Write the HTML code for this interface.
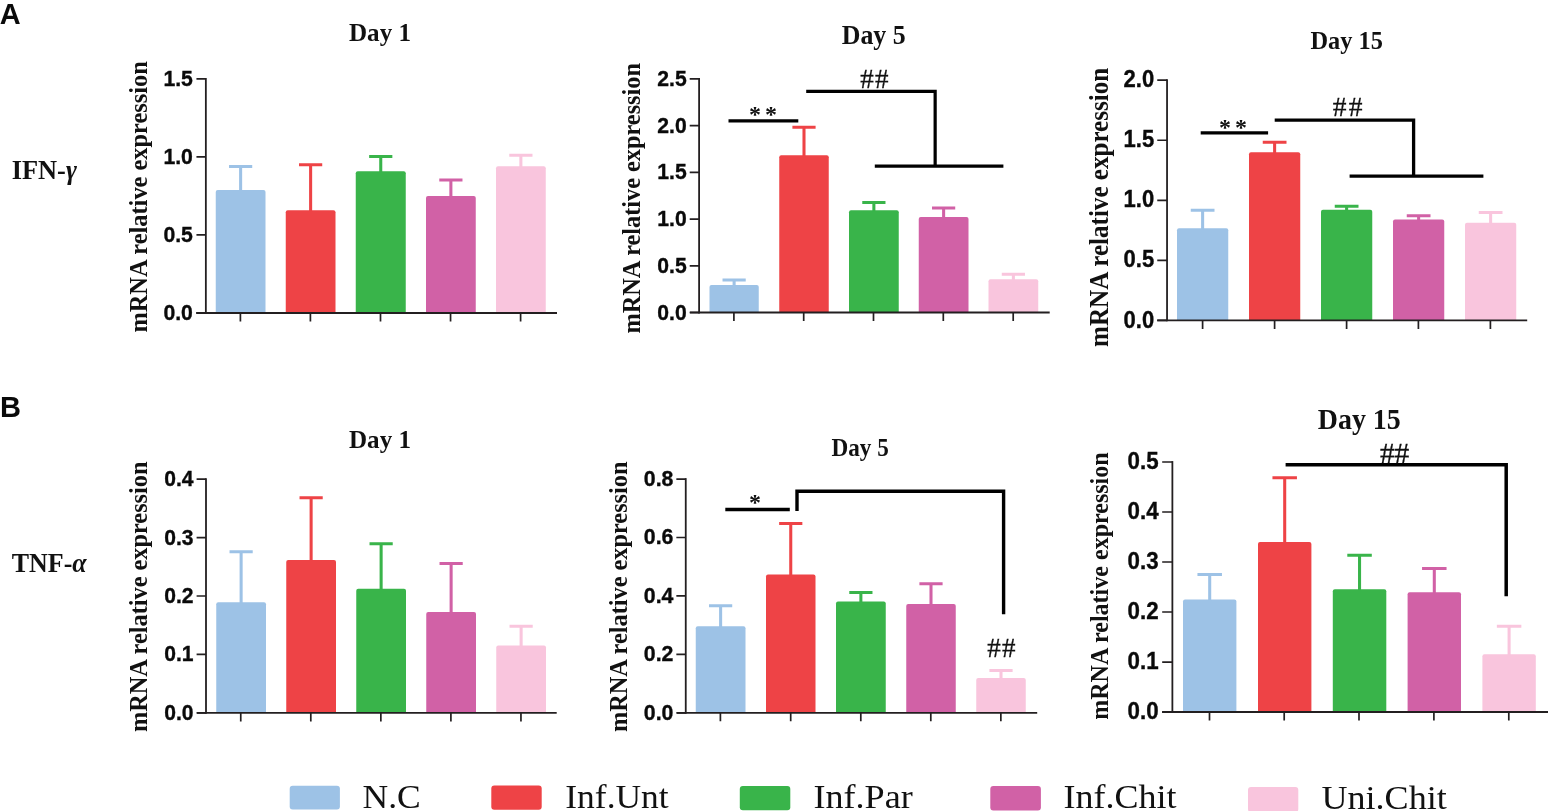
<!DOCTYPE html>
<html lang="en"><head><meta charset="utf-8"><title>mRNA relative expression – IFN-γ and TNF-α</title>
<style>
html,body{margin:0;padding:0;background:#fff;}
body{width:1548px;height:811px;overflow:hidden;font-family:"Liberation Serif", "Times New Roman", serif;}
svg{display:block;position:absolute;left:0;top:0;}
text{white-space:pre;}
</style></head><body>
<svg width="1548" height="811" viewBox="0 0 1548 811">
<rect width="1548" height="811" fill="#fff"/>
<path d="M215.75 312.95V192.00Q215.75 190.00 217.75 190.00H263.50Q265.50 190.00 265.50 192.00V312.95Z" fill="#9DC2E6"/>
<path d="M240.62 191.00V166.50M229.03 166.50H252.22" stroke="#9DC2E6" stroke-width="3.05" fill="none"/>
<path d="M285.75 312.95V212.25Q285.75 210.25 287.75 210.25H333.50Q335.50 210.25 335.50 212.25V312.95Z" fill="#EE4346"/>
<path d="M310.62 211.25V164.75M299.02 164.75H322.23" stroke="#EE4346" stroke-width="3.05" fill="none"/>
<path d="M355.75 312.95V173.25Q355.75 171.25 357.75 171.25H403.75Q405.75 171.25 405.75 173.25V312.95Z" fill="#39B44A"/>
<path d="M380.75 172.25V156.50M369.15 156.50H392.35" stroke="#39B44A" stroke-width="3.05" fill="none"/>
<path d="M426.00 312.95V198.00Q426.00 196.00 428.00 196.00H473.75Q475.75 196.00 475.75 198.00V312.95Z" fill="#D161A6"/>
<path d="M450.88 197.00V180.00M439.27 180.00H462.48" stroke="#D161A6" stroke-width="3.05" fill="none"/>
<path d="M496.00 312.95V168.25Q496.00 166.25 498.00 166.25H543.75Q545.75 166.25 545.75 168.25V312.95Z" fill="#F9C5DD"/>
<path d="M520.88 167.25V155.25M509.27 155.25H532.48" stroke="#F9C5DD" stroke-width="3.05" fill="none"/>
<path d="M205.85 78.00V313.85" stroke="#231F20" stroke-width="1.8" fill="none"/>
<path d="M196.20 312.95H557.00" stroke="#231F20" stroke-width="1.9" fill="none"/>
<path d="M196.45 78.90H205.85M196.45 156.92H205.85M196.45 234.93H205.85M196.45 312.95H205.85M240.40 312.95V321.45M310.40 312.95V321.45M380.50 312.95V321.45M450.55 312.95V321.45M520.60 312.95V321.45" stroke="#231F20" stroke-width="1.7" fill="none"/>
<text x="192.90" y="85.90" text-anchor="end" font-family='"Liberation Sans", Arial, sans-serif' font-weight="700" font-size="22" textLength="29.5" lengthAdjust="spacingAndGlyphs" fill="#0a0a0a" stroke="#0a0a0a" stroke-width="0.35">1.5</text>
<text x="192.90" y="163.92" text-anchor="end" font-family='"Liberation Sans", Arial, sans-serif' font-weight="700" font-size="22" textLength="29.5" lengthAdjust="spacingAndGlyphs" fill="#0a0a0a" stroke="#0a0a0a" stroke-width="0.35">1.0</text>
<text x="192.90" y="241.93" text-anchor="end" font-family='"Liberation Sans", Arial, sans-serif' font-weight="700" font-size="22" textLength="29.5" lengthAdjust="spacingAndGlyphs" fill="#0a0a0a" stroke="#0a0a0a" stroke-width="0.35">0.5</text>
<text x="192.90" y="319.95" text-anchor="end" font-family='"Liberation Sans", Arial, sans-serif' font-weight="700" font-size="22" textLength="29.5" lengthAdjust="spacingAndGlyphs" fill="#0a0a0a" stroke="#0a0a0a" stroke-width="0.35">0.0</text>
<text x="380.00" y="41.40" text-anchor="middle" font-family='"Liberation Serif", "Times New Roman", serif' font-weight="700" font-size="25" textLength="62" lengthAdjust="spacingAndGlyphs" fill="#111">Day 1</text>
<text transform="translate(147.10 332.60) rotate(-90)" font-family='"Liberation Serif", "Times New Roman", serif' font-weight="700" font-size="26" textLength="271.4" lengthAdjust="spacingAndGlyphs" fill="#111">mRNA relative expression</text>
<path d="M709.50 312.50V287.00Q709.50 285.00 711.50 285.00H756.75Q758.75 285.00 758.75 287.00V312.50Z" fill="#9DC2E6"/>
<path d="M734.12 286.00V280.00M722.52 280.00H745.73" stroke="#9DC2E6" stroke-width="3.05" fill="none"/>
<path d="M779.25 312.50V157.25Q779.25 155.25 781.25 155.25H826.75Q828.75 155.25 828.75 157.25V312.50Z" fill="#EE4346"/>
<path d="M804.00 156.25V127.25M792.40 127.25H815.60" stroke="#EE4346" stroke-width="3.05" fill="none"/>
<path d="M849.00 312.50V212.25Q849.00 210.25 851.00 210.25H896.75Q898.75 210.25 898.75 212.25V312.50Z" fill="#39B44A"/>
<path d="M873.88 211.25V202.50M862.27 202.50H885.48" stroke="#39B44A" stroke-width="3.05" fill="none"/>
<path d="M918.75 312.50V219.00Q918.75 217.00 920.75 217.00H966.50Q968.50 217.00 968.50 219.00V312.50Z" fill="#D161A6"/>
<path d="M943.62 218.00V208.00M932.02 208.00H955.23" stroke="#D161A6" stroke-width="3.05" fill="none"/>
<path d="M988.50 312.50V281.25Q988.50 279.25 990.50 279.25H1036.25Q1038.25 279.25 1038.25 281.25V312.50Z" fill="#F9C5DD"/>
<path d="M1013.38 280.25V274.25M1001.77 274.25H1024.97" stroke="#F9C5DD" stroke-width="3.05" fill="none"/>
<path d="M699.10 78.00V313.40" stroke="#231F20" stroke-width="1.8" fill="none"/>
<path d="M689.90 312.50H1049.70" stroke="#231F20" stroke-width="1.9" fill="none"/>
<path d="M689.70 78.90H699.10M689.70 125.62H699.10M689.70 172.34H699.10M689.70 219.06H699.10M689.70 265.78H699.10M689.70 312.50H699.10M733.90 312.50V321.00M803.70 312.50V321.00M873.50 312.50V321.00M943.30 312.50V321.00M1013.20 312.50V321.00" stroke="#231F20" stroke-width="1.7" fill="none"/>
<text x="686.70" y="85.90" text-anchor="end" font-family='"Liberation Sans", Arial, sans-serif' font-weight="700" font-size="22" textLength="29.4" lengthAdjust="spacingAndGlyphs" fill="#0a0a0a" stroke="#0a0a0a" stroke-width="0.35">2.5</text>
<text x="686.70" y="132.62" text-anchor="end" font-family='"Liberation Sans", Arial, sans-serif' font-weight="700" font-size="22" textLength="29.4" lengthAdjust="spacingAndGlyphs" fill="#0a0a0a" stroke="#0a0a0a" stroke-width="0.35">2.0</text>
<text x="686.70" y="179.34" text-anchor="end" font-family='"Liberation Sans", Arial, sans-serif' font-weight="700" font-size="22" textLength="29.4" lengthAdjust="spacingAndGlyphs" fill="#0a0a0a" stroke="#0a0a0a" stroke-width="0.35">1.5</text>
<text x="686.70" y="226.06" text-anchor="end" font-family='"Liberation Sans", Arial, sans-serif' font-weight="700" font-size="22" textLength="29.4" lengthAdjust="spacingAndGlyphs" fill="#0a0a0a" stroke="#0a0a0a" stroke-width="0.35">1.0</text>
<text x="686.70" y="272.78" text-anchor="end" font-family='"Liberation Sans", Arial, sans-serif' font-weight="700" font-size="22" textLength="29.4" lengthAdjust="spacingAndGlyphs" fill="#0a0a0a" stroke="#0a0a0a" stroke-width="0.35">0.5</text>
<text x="686.70" y="319.50" text-anchor="end" font-family='"Liberation Sans", Arial, sans-serif' font-weight="700" font-size="22" textLength="29.4" lengthAdjust="spacingAndGlyphs" fill="#0a0a0a" stroke="#0a0a0a" stroke-width="0.35">0.0</text>
<text x="873.70" y="44.40" text-anchor="middle" font-family='"Liberation Serif", "Times New Roman", serif' font-weight="700" font-size="26.5" textLength="64" lengthAdjust="spacingAndGlyphs" fill="#111">Day 5</text>
<text transform="translate(639.80 333.50) rotate(-90)" font-family='"Liberation Serif", "Times New Roman", serif' font-weight="700" font-size="26" textLength="270.5" lengthAdjust="spacingAndGlyphs" fill="#111">mRNA relative expression</text>
<path d="M1177.00 320.40V230.25Q1177.00 228.25 1179.00 228.25H1226.25Q1228.25 228.25 1228.25 230.25V320.40Z" fill="#9DC2E6"/>
<path d="M1202.62 229.25V210.25M1190.75 210.25H1214.50" stroke="#9DC2E6" stroke-width="3.05" fill="none"/>
<path d="M1249.00 320.40V154.25Q1249.00 152.25 1251.00 152.25H1298.25Q1300.25 152.25 1300.25 154.25V320.40Z" fill="#EE4346"/>
<path d="M1274.62 153.25V142.25M1262.75 142.25H1286.50" stroke="#EE4346" stroke-width="3.05" fill="none"/>
<path d="M1321.00 320.40V211.75Q1321.00 209.75 1323.00 209.75H1370.25Q1372.25 209.75 1372.25 211.75V320.40Z" fill="#39B44A"/>
<path d="M1346.62 210.75V206.25M1334.75 206.25H1358.50" stroke="#39B44A" stroke-width="3.05" fill="none"/>
<path d="M1393.00 320.40V221.50Q1393.00 219.50 1395.00 219.50H1442.25Q1444.25 219.50 1444.25 221.50V320.40Z" fill="#D161A6"/>
<path d="M1418.62 220.50V215.75M1406.75 215.75H1430.50" stroke="#D161A6" stroke-width="3.05" fill="none"/>
<path d="M1465.00 320.40V224.75Q1465.00 222.75 1467.00 222.75H1514.25Q1516.25 222.75 1516.25 224.75V320.40Z" fill="#F9C5DD"/>
<path d="M1490.62 223.75V212.50M1478.75 212.50H1502.50" stroke="#F9C5DD" stroke-width="3.05" fill="none"/>
<path d="M1167.05 79.30V321.30" stroke="#231F20" stroke-width="1.8" fill="none"/>
<path d="M1157.20 320.40H1527.20" stroke="#231F20" stroke-width="1.9" fill="none"/>
<path d="M1157.25 80.20H1167.05M1157.25 140.25H1167.05M1157.25 200.30H1167.05M1157.25 260.35H1167.05M1157.25 320.40H1167.05M1202.60 320.40V328.90M1274.60 320.40V328.90M1346.60 320.40V328.90M1418.40 320.40V328.90M1490.40 320.40V328.90" stroke="#231F20" stroke-width="1.7" fill="none"/>
<text x="1154.20" y="87.30" text-anchor="end" font-family='"Liberation Sans", Arial, sans-serif' font-weight="700" font-size="23" textLength="30.6" lengthAdjust="spacingAndGlyphs" fill="#0a0a0a" stroke="#0a0a0a" stroke-width="0.35">2.0</text>
<text x="1154.20" y="147.35" text-anchor="end" font-family='"Liberation Sans", Arial, sans-serif' font-weight="700" font-size="23" textLength="30.6" lengthAdjust="spacingAndGlyphs" fill="#0a0a0a" stroke="#0a0a0a" stroke-width="0.35">1.5</text>
<text x="1154.20" y="207.40" text-anchor="end" font-family='"Liberation Sans", Arial, sans-serif' font-weight="700" font-size="23" textLength="30.6" lengthAdjust="spacingAndGlyphs" fill="#0a0a0a" stroke="#0a0a0a" stroke-width="0.35">1.0</text>
<text x="1154.20" y="267.45" text-anchor="end" font-family='"Liberation Sans", Arial, sans-serif' font-weight="700" font-size="23" textLength="30.6" lengthAdjust="spacingAndGlyphs" fill="#0a0a0a" stroke="#0a0a0a" stroke-width="0.35">0.5</text>
<text x="1154.20" y="327.50" text-anchor="end" font-family='"Liberation Sans", Arial, sans-serif' font-weight="700" font-size="23" textLength="30.6" lengthAdjust="spacingAndGlyphs" fill="#0a0a0a" stroke="#0a0a0a" stroke-width="0.35">0.0</text>
<text x="1346.70" y="49.40" text-anchor="middle" font-family='"Liberation Serif", "Times New Roman", serif' font-weight="700" font-size="26" textLength="72.4" lengthAdjust="spacingAndGlyphs" fill="#111">Day 15</text>
<text transform="translate(1108.40 346.90) rotate(-90)" font-family='"Liberation Serif", "Times New Roman", serif' font-weight="700" font-size="26.8" textLength="279.1" lengthAdjust="spacingAndGlyphs" fill="#111">mRNA relative expression</text>
<path d="M216.25 712.90V604.25Q216.25 602.25 218.25 602.25H264.00Q266.00 602.25 266.00 604.25V712.90Z" fill="#9DC2E6"/>
<path d="M241.12 603.25V551.75M229.53 551.75H252.72" stroke="#9DC2E6" stroke-width="3.05" fill="none"/>
<path d="M286.25 712.90V562.00Q286.25 560.00 288.25 560.00H334.00Q336.00 560.00 336.00 562.00V712.90Z" fill="#EE4346"/>
<path d="M311.12 561.00V497.75M299.52 497.75H322.73" stroke="#EE4346" stroke-width="3.05" fill="none"/>
<path d="M356.25 712.90V590.75Q356.25 588.75 358.25 588.75H404.00Q406.00 588.75 406.00 590.75V712.90Z" fill="#39B44A"/>
<path d="M381.12 589.75V543.75M369.52 543.75H392.73" stroke="#39B44A" stroke-width="3.05" fill="none"/>
<path d="M426.25 712.90V614.00Q426.25 612.00 428.25 612.00H474.00Q476.00 612.00 476.00 614.00V712.90Z" fill="#D161A6"/>
<path d="M451.12 613.00V563.50M439.52 563.50H462.73" stroke="#D161A6" stroke-width="3.05" fill="none"/>
<path d="M496.25 712.90V647.50Q496.25 645.50 498.25 645.50H544.00Q546.00 645.50 546.00 647.50V712.90Z" fill="#F9C5DD"/>
<path d="M521.12 646.50V626.25M509.52 626.25H532.73" stroke="#F9C5DD" stroke-width="3.05" fill="none"/>
<path d="M206.00 478.20V713.80" stroke="#231F20" stroke-width="1.8" fill="none"/>
<path d="M196.90 712.90H556.70" stroke="#231F20" stroke-width="1.9" fill="none"/>
<path d="M196.60 479.10H206.00M196.60 537.55H206.00M196.60 596.00H206.00M196.60 654.45H206.00M196.60 712.90H206.00M240.75 712.90V721.40M310.80 712.90V721.40M380.85 712.90V721.40M450.90 712.90V721.40M520.95 712.90V721.40" stroke="#231F20" stroke-width="1.7" fill="none"/>
<text x="193.60" y="486.10" text-anchor="end" font-family='"Liberation Sans", Arial, sans-serif' font-weight="700" font-size="22" textLength="29.3" lengthAdjust="spacingAndGlyphs" fill="#0a0a0a" stroke="#0a0a0a" stroke-width="0.35">0.4</text>
<text x="193.60" y="544.55" text-anchor="end" font-family='"Liberation Sans", Arial, sans-serif' font-weight="700" font-size="22" textLength="29.3" lengthAdjust="spacingAndGlyphs" fill="#0a0a0a" stroke="#0a0a0a" stroke-width="0.35">0.3</text>
<text x="193.60" y="603.00" text-anchor="end" font-family='"Liberation Sans", Arial, sans-serif' font-weight="700" font-size="22" textLength="29.3" lengthAdjust="spacingAndGlyphs" fill="#0a0a0a" stroke="#0a0a0a" stroke-width="0.35">0.2</text>
<text x="193.60" y="661.45" text-anchor="end" font-family='"Liberation Sans", Arial, sans-serif' font-weight="700" font-size="22" textLength="29.3" lengthAdjust="spacingAndGlyphs" fill="#0a0a0a" stroke="#0a0a0a" stroke-width="0.35">0.1</text>
<text x="193.60" y="719.90" text-anchor="end" font-family='"Liberation Sans", Arial, sans-serif' font-weight="700" font-size="22" textLength="29.3" lengthAdjust="spacingAndGlyphs" fill="#0a0a0a" stroke="#0a0a0a" stroke-width="0.35">0.0</text>
<text x="380.00" y="447.60" text-anchor="middle" font-family='"Liberation Serif", "Times New Roman", serif' font-weight="700" font-size="25" textLength="62" lengthAdjust="spacingAndGlyphs" fill="#111">Day 1</text>
<text transform="translate(147.30 732.10) rotate(-90)" font-family='"Liberation Serif", "Times New Roman", serif' font-weight="700" font-size="26" textLength="270.6" lengthAdjust="spacingAndGlyphs" fill="#111">mRNA relative expression</text>
<path d="M695.75 712.85V628.25Q695.75 626.25 697.75 626.25H743.50Q745.50 626.25 745.50 628.25V712.85Z" fill="#9DC2E6"/>
<path d="M720.62 627.25V605.75M709.02 605.75H732.23" stroke="#9DC2E6" stroke-width="3.05" fill="none"/>
<path d="M766.00 712.85V576.50Q766.00 574.50 768.00 574.50H813.50Q815.50 574.50 815.50 576.50V712.85Z" fill="#EE4346"/>
<path d="M790.75 575.50V523.50M779.15 523.50H802.35" stroke="#EE4346" stroke-width="3.05" fill="none"/>
<path d="M836.00 712.85V603.50Q836.00 601.50 838.00 601.50H883.75Q885.75 601.50 885.75 603.50V712.85Z" fill="#39B44A"/>
<path d="M860.88 602.50V592.50M849.27 592.50H872.48" stroke="#39B44A" stroke-width="3.05" fill="none"/>
<path d="M906.25 712.85V606.00Q906.25 604.00 908.25 604.00H953.75Q955.75 604.00 955.75 606.00V712.85Z" fill="#D161A6"/>
<path d="M931.00 605.00V583.75M919.40 583.75H942.60" stroke="#D161A6" stroke-width="3.05" fill="none"/>
<path d="M976.25 712.85V680.00Q976.25 678.00 978.25 678.00H1023.75Q1025.75 678.00 1025.75 680.00V712.85Z" fill="#F9C5DD"/>
<path d="M1001.00 679.00V670.50M989.40 670.50H1012.60" stroke="#F9C5DD" stroke-width="3.05" fill="none"/>
<path d="M685.75 478.13V713.75" stroke="#231F20" stroke-width="1.8" fill="none"/>
<path d="M676.90 712.85H1037.20" stroke="#231F20" stroke-width="1.9" fill="none"/>
<path d="M676.35 479.03H685.75M676.35 537.49H685.75M676.35 595.94H685.75M676.35 654.39H685.75M676.35 712.85H685.75M720.40 712.85V721.35M790.70 712.85V721.35M860.80 712.85V721.35M930.80 712.85V721.35M1000.85 712.85V721.35" stroke="#231F20" stroke-width="1.7" fill="none"/>
<text x="673.40" y="486.03" text-anchor="end" font-family='"Liberation Sans", Arial, sans-serif' font-weight="700" font-size="22" textLength="29.6" lengthAdjust="spacingAndGlyphs" fill="#0a0a0a" stroke="#0a0a0a" stroke-width="0.35">0.8</text>
<text x="673.40" y="544.49" text-anchor="end" font-family='"Liberation Sans", Arial, sans-serif' font-weight="700" font-size="22" textLength="29.6" lengthAdjust="spacingAndGlyphs" fill="#0a0a0a" stroke="#0a0a0a" stroke-width="0.35">0.6</text>
<text x="673.40" y="602.94" text-anchor="end" font-family='"Liberation Sans", Arial, sans-serif' font-weight="700" font-size="22" textLength="29.6" lengthAdjust="spacingAndGlyphs" fill="#0a0a0a" stroke="#0a0a0a" stroke-width="0.35">0.4</text>
<text x="673.40" y="661.39" text-anchor="end" font-family='"Liberation Sans", Arial, sans-serif' font-weight="700" font-size="22" textLength="29.6" lengthAdjust="spacingAndGlyphs" fill="#0a0a0a" stroke="#0a0a0a" stroke-width="0.35">0.2</text>
<text x="673.40" y="719.85" text-anchor="end" font-family='"Liberation Sans", Arial, sans-serif' font-weight="700" font-size="22" textLength="29.6" lengthAdjust="spacingAndGlyphs" fill="#0a0a0a" stroke="#0a0a0a" stroke-width="0.35">0.0</text>
<text x="860.10" y="455.80" text-anchor="middle" font-family='"Liberation Serif", "Times New Roman", serif' font-weight="700" font-size="25.5" textLength="57.3" lengthAdjust="spacingAndGlyphs" fill="#111">Day 5</text>
<text transform="translate(627.40 732.10) rotate(-90)" font-family='"Liberation Serif", "Times New Roman", serif' font-weight="700" font-size="26" textLength="270.6" lengthAdjust="spacingAndGlyphs" fill="#111">mRNA relative expression</text>
<path d="M1183.00 712.04V601.50Q1183.00 599.50 1185.00 599.50H1234.40Q1236.40 599.50 1236.40 601.50V712.04Z" fill="#9DC2E6"/>
<path d="M1209.70 600.50V574.50M1197.45 574.50H1221.95" stroke="#9DC2E6" stroke-width="3.05" fill="none"/>
<path d="M1258.00 712.04V544.00Q1258.00 542.00 1260.00 542.00H1309.40Q1311.40 542.00 1311.40 544.00V712.04Z" fill="#EE4346"/>
<path d="M1284.70 543.00V477.70M1272.45 477.70H1296.95" stroke="#EE4346" stroke-width="3.05" fill="none"/>
<path d="M1332.80 712.04V591.25Q1332.80 589.25 1334.80 589.25H1384.30Q1386.30 589.25 1386.30 591.25V712.04Z" fill="#39B44A"/>
<path d="M1359.55 590.25V555.25M1347.30 555.25H1371.80" stroke="#39B44A" stroke-width="3.05" fill="none"/>
<path d="M1407.60 712.04V594.25Q1407.60 592.25 1409.60 592.25H1459.00Q1461.00 592.25 1461.00 594.25V712.04Z" fill="#D161A6"/>
<path d="M1434.30 593.25V568.50M1422.05 568.50H1446.55" stroke="#D161A6" stroke-width="3.05" fill="none"/>
<path d="M1482.40 712.04V656.25Q1482.40 654.25 1484.40 654.25H1533.80Q1535.80 654.25 1535.80 656.25V712.04Z" fill="#F9C5DD"/>
<path d="M1509.10 655.25V626.25M1496.85 626.25H1521.35" stroke="#F9C5DD" stroke-width="3.05" fill="none"/>
<path d="M1172.38 461.10V712.94" stroke="#231F20" stroke-width="1.8" fill="none"/>
<path d="M1162.10 712.04H1548.00" stroke="#231F20" stroke-width="1.9" fill="none"/>
<path d="M1162.18 462.00H1172.38M1162.18 512.01H1172.38M1162.18 562.02H1172.38M1162.18 612.02H1172.38M1162.18 662.03H1172.38M1162.18 712.04H1172.38M1209.50 712.04V720.54M1284.20 712.04V720.54M1359.00 712.04V720.54M1433.90 712.04V720.54M1508.80 712.04V720.54" stroke="#231F20" stroke-width="1.7" fill="none"/>
<text x="1158.60" y="469.10" text-anchor="end" font-family='"Liberation Sans", Arial, sans-serif' font-weight="700" font-size="23.5" textLength="31" lengthAdjust="spacingAndGlyphs" fill="#0a0a0a" stroke="#0a0a0a" stroke-width="0.35">0.5</text>
<text x="1158.60" y="519.11" text-anchor="end" font-family='"Liberation Sans", Arial, sans-serif' font-weight="700" font-size="23.5" textLength="31" lengthAdjust="spacingAndGlyphs" fill="#0a0a0a" stroke="#0a0a0a" stroke-width="0.35">0.4</text>
<text x="1158.60" y="569.12" text-anchor="end" font-family='"Liberation Sans", Arial, sans-serif' font-weight="700" font-size="23.5" textLength="31" lengthAdjust="spacingAndGlyphs" fill="#0a0a0a" stroke="#0a0a0a" stroke-width="0.35">0.3</text>
<text x="1158.60" y="619.12" text-anchor="end" font-family='"Liberation Sans", Arial, sans-serif' font-weight="700" font-size="23.5" textLength="31" lengthAdjust="spacingAndGlyphs" fill="#0a0a0a" stroke="#0a0a0a" stroke-width="0.35">0.2</text>
<text x="1158.60" y="669.13" text-anchor="end" font-family='"Liberation Sans", Arial, sans-serif' font-weight="700" font-size="23.5" textLength="31" lengthAdjust="spacingAndGlyphs" fill="#0a0a0a" stroke="#0a0a0a" stroke-width="0.35">0.1</text>
<text x="1158.60" y="719.14" text-anchor="end" font-family='"Liberation Sans", Arial, sans-serif' font-weight="700" font-size="23.5" textLength="31" lengthAdjust="spacingAndGlyphs" fill="#0a0a0a" stroke="#0a0a0a" stroke-width="0.35">0.0</text>
<text x="1359.30" y="428.50" text-anchor="middle" font-family='"Liberation Serif", "Times New Roman", serif' font-weight="700" font-size="29" textLength="83" lengthAdjust="spacingAndGlyphs" fill="#111">Day 15</text>
<text transform="translate(1108.00 719.80) rotate(-90)" font-family='"Liberation Serif", "Times New Roman", serif' font-weight="700" font-size="25.7" textLength="267.5" lengthAdjust="spacingAndGlyphs" fill="#111">mRNA relative expression</text>
<path d="M728.5 120.8H798.3" stroke="#000" stroke-width="3.2" fill="none" stroke-linejoin="miter"/>
<path d="M806.2 91.35H935.15V166.1 M874.8 166.1H1003.4" stroke="#000" stroke-width="3.2" fill="none" stroke-linejoin="miter"/>
<text x="755.10" y="122.20" text-anchor="middle" font-family='"Liberation Serif", "Times New Roman", serif' font-weight="700" font-size="24" fill="#111">*</text>
<text x="770.90" y="122.20" text-anchor="middle" font-family='"Liberation Serif", "Times New Roman", serif' font-weight="700" font-size="24" fill="#111">*</text>
<text x="860.20" y="87.60" font-family='"Liberation Serif", "Times New Roman", serif' font-size="27" textLength="28.20" lengthAdjust="spacing" fill="#111" stroke="#111" stroke-width="0.3">##</text>
<path d="M1200.7 132.85H1268.1" stroke="#000" stroke-width="3.3" fill="none" stroke-linejoin="miter"/>
<path d="M1274.7 120.1H1413.6V176.05 M1349.6 176.05H1483.4" stroke="#000" stroke-width="3.3" fill="none" stroke-linejoin="miter"/>
<text x="1225.10" y="135.40" text-anchor="middle" font-family='"Liberation Serif", "Times New Roman", serif' font-weight="700" font-size="24" fill="#111">*</text>
<text x="1240.90" y="135.40" text-anchor="middle" font-family='"Liberation Serif", "Times New Roman", serif' font-weight="700" font-size="24" fill="#111">*</text>
<text x="1332.80" y="116.30" font-family='"Liberation Serif", "Times New Roman", serif' font-size="27.5" textLength="29.60" lengthAdjust="spacing" fill="#111" stroke="#111" stroke-width="0.3">##</text>
<path d="M725.3 509.5H789.8" stroke="#000" stroke-width="3.3" fill="none" stroke-linejoin="miter"/>
<path d="M797 511V491.2H1003.6V614.2" stroke="#000" stroke-width="3.4" fill="none" stroke-linejoin="miter"/>
<text x="755.00" y="510.10" text-anchor="middle" font-family='"Liberation Serif", "Times New Roman", serif' font-weight="700" font-size="24" fill="#111">*</text>
<text x="987.20" y="657.00" font-family='"Liberation Serif", "Times New Roman", serif' font-size="27" textLength="28.30" lengthAdjust="spacing" fill="#111" stroke="#111" stroke-width="0.3">##</text>
<path d="M1285.6 464.85H1506.2V596.2" stroke="#000" stroke-width="3.5" fill="none" stroke-linejoin="miter"/>
<text x="1379.90" y="462.90" font-family='"Liberation Serif", "Times New Roman", serif' font-size="29.5" textLength="29.40" lengthAdjust="spacing" fill="#111" stroke="#111" stroke-width="0.3">##</text>
<text x="-0.2" y="24.0" font-family='"Liberation Sans", Arial, sans-serif' font-weight="700" font-size="30" textLength="20.9" lengthAdjust="spacingAndGlyphs" fill="#0a0a0a">A</text>
<text x="-0.1" y="417.4" font-family='"Liberation Sans", Arial, sans-serif' font-weight="700" font-size="30" textLength="21" lengthAdjust="spacingAndGlyphs" fill="#0a0a0a">B</text>
<text x="11.7" y="178.5" font-family='"Liberation Serif", "Times New Roman", serif' font-weight="700" font-size="27" textLength="65.2" lengthAdjust="spacingAndGlyphs" fill="#111">IFN-<tspan font-style="italic">γ</tspan></text>
<text x="11.7" y="571.5" font-family='"Liberation Serif", "Times New Roman", serif' font-weight="700" font-size="27" textLength="75" lengthAdjust="spacingAndGlyphs" fill="#111">TNF-<tspan font-style="italic">α</tspan></text>
<rect x="289.7" y="785.7" width="50.20" height="23.80" rx="3" fill="#9DC2E6"/>
<text x="362.6" y="808.4" font-family='"Liberation Serif", "Times New Roman", serif' font-size="33" textLength="58.20" lengthAdjust="spacingAndGlyphs" fill="#111">N.C</text>
<rect x="491.3" y="785.6" width="50.40" height="24.20" rx="3" fill="#EE4346"/>
<text x="565.3" y="808.3" font-family='"Liberation Serif", "Times New Roman", serif' font-size="33" textLength="103.40" lengthAdjust="spacingAndGlyphs" fill="#111">Inf.Unt</text>
<rect x="739.8" y="785.9" width="50.50" height="24.30" rx="3" fill="#39B44A"/>
<text x="813.5" y="808.3" font-family='"Liberation Serif", "Times New Roman", serif' font-size="33" textLength="99.20" lengthAdjust="spacingAndGlyphs" fill="#111">Inf.Par</text>
<rect x="990.3" y="786.0" width="50.60" height="24.40" rx="3" fill="#D161A6"/>
<text x="1063.5" y="808.3" font-family='"Liberation Serif", "Times New Roman", serif' font-size="33" textLength="112.90" lengthAdjust="spacingAndGlyphs" fill="#111">Inf.Chit</text>
<rect x="1248.0" y="787.0" width="50.30" height="25.00" rx="3" fill="#F9C5DD"/>
<text x="1321.5" y="809.4" font-family='"Liberation Serif", "Times New Roman", serif' font-size="33" textLength="125.20" lengthAdjust="spacingAndGlyphs" fill="#111">Uni.Chit</text>
</svg>
</body></html>
